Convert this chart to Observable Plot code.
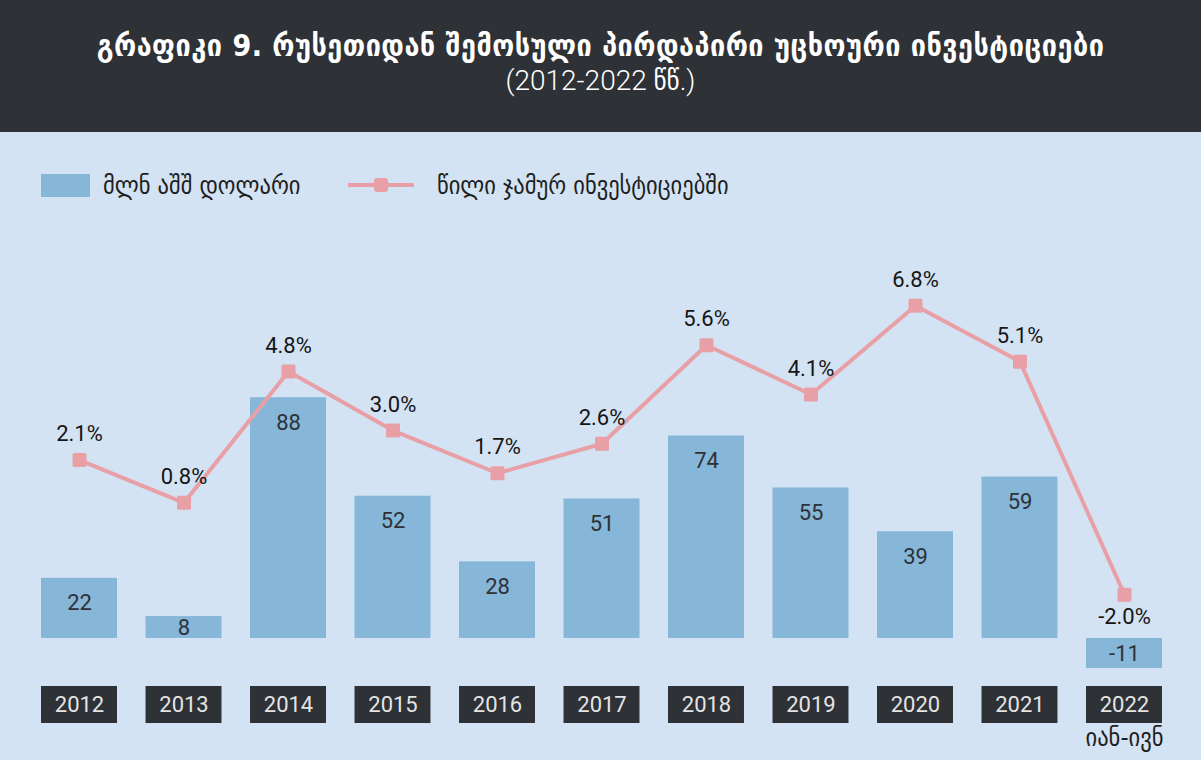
<!DOCTYPE html>
<html><head><meta charset="utf-8">
<script src="https://cdn.jsdelivr.net/npm/d3@7"></script>
<script src="https://cdn.jsdelivr.net/npm/@observablehq/plot@0.6"></script>
<style>
body{margin:0;background:#d3e3f3;width:1201px;height:760px;overflow:hidden;font-family:"DejaVu Sans Condensed","DejaVu Sans",sans-serif;}
#header{height:132px;background:#2e3136;color:#fff;text-align:center;box-sizing:border-box;padding-top:28px;}
#title{font-size:30px;font-weight:bold;line-height:36px;letter-spacing:0.5px;}
#subtitle{font-size:28px;line-height:34px;font-family:Roboto,"DejaVu Sans Condensed",sans-serif;font-weight:300;}
#legend{height:93px;position:relative;color:#1e1e1e;font-size:25px;}
.lg{position:absolute;top:40px;display:flex;align-items:center;height:26px;}
#chart svg,#strip svg{display:block;overflow:visible;}
</style></head><body>
<div id="header">
  <div id="title">გრაფიკი 9. რუსეთიდან შემოსული პირდაპირი უცხოური ინვესტიციები</div>
  <div id="subtitle">(2012-2022 წწ.)</div>
</div>
<div id="legend">
  <div class="lg" style="left:41px"><span style="display:inline-block;width:49px;height:23px;background:#86b6d8;margin-right:13px"></span><span>მლნ აშშ დოლარი</span></div>
  <div class="lg" style="left:348px"><svg width="66" height="20" style="margin-right:23px"><line x1="0" x2="66" y1="10" y2="10" stroke="#e8a0a6" stroke-width="4"/><rect x="26" y="3" width="14" height="14" rx="3" fill="#e8a0a6"/></svg><span>წილი ჯამურ ინვესტიციებში</span></div>
</div>
<div id="chart"></div>
<div id="strip"></div>
<script>
const years = ["2012","2013","2014","2015","2016","2017","2018","2019","2020","2021","2022"];
const valuesMln = [22, 8, 88, 52, 28, 51, 74, 55, 39, 59, -11];
const sharePct = [2.1, 0.8, 4.8, 3.0, 1.7, 2.6, 5.6, 4.1, 6.8, 5.1, -2.0];
const periodNote = {year: "2022", text: "იან-ივნ"};

const data = years.map((y, i) => ({year: y, value: valuesMln[i], pct: sharePct[i]}));

const BAR = "#86b6d8", PINK = "#e8a0a6", DARK = "#2e3136";
const numFont = "Roboto, 'DejaVu Sans', sans-serif";
// percent series drawn on the same y scale via a linear mapping (secondary axis)
const pctToY = d => 40 + 12 * d.pct;

const xOpts = {type: "band", domain: years, padding: 0.273, round: false, axis: null};

const chart = Plot.plot({
  width: 1201, height: 455,
  marginLeft: 12.5, marginRight: 10.5, marginTop: 30, marginBottom: 1,
  style: {background: "transparent", fontFamily: numFont},
  x: xOpts,
  y: {domain: [-15, 140], axis: null},
  marks: [
    Plot.barY(data, {x: "year", y: "value", fill: BAR}),
    Plot.text(data.filter(d => Math.abs(d.value) >= 15), {x: "year", y: "value", text: d => String(d.value), dy: 25, fontSize: 22, fill: DARK, letterSpacing: "1.5px"}),
    Plot.text(data.filter(d => Math.abs(d.value) < 15), {x: "year", y: d => d.value / 2, text: d => String(d.value), fontSize: 22, fill: DARK, letterSpacing: "1.5px"}),
    Plot.line(data, {x: "year", y: pctToY, stroke: PINK, strokeWidth: 4}),
    Plot.dot(data, {x: "year", y: pctToY, symbol: "square", r: 6.2, fill: PINK, stroke: PINK, strokeWidth: 3, strokeLinejoin: "round"}),
    Plot.text(data.filter(d => d.pct >= 0), {x: "year", y: pctToY, text: d => d.pct.toFixed(1) + "%", dy: -26, fontSize: 22, fill: "#151515", letterSpacing: "1.5px"}),
    Plot.text(data.filter(d => d.pct < 0), {x: "year", y: pctToY, text: d => d.pct.toFixed(1) + "%", dy: 22, fontSize: 22, fill: "#151515", letterSpacing: "1.5px"})
  ]
});
document.getElementById("chart").appendChild(chart);

const strip = Plot.plot({
  width: 1201, height: 80,
  marginLeft: 12.5, marginRight: 10.5, marginTop: 6, marginBottom: 37,
  style: {background: "transparent", fontFamily: numFont},
  x: xOpts,
  marks: [
    Plot.cell(data, {x: "year", fill: DARK, inset: 0}),
    Plot.text(data, {x: "year", text: "year", frameAnchor: "middle", fontSize: 22, fill: "#e4e4e4", letterSpacing: "1.5px"}),
    Plot.text([periodNote], {x: "year", text: "text", frameAnchor: "bottom", dy: 22, fontSize: 25, fill: "#1e1e1e", fontFamily: "'DejaVu Sans Condensed', sans-serif"})
  ]
});
document.getElementById("strip").appendChild(strip);
</script>
</body></html>
